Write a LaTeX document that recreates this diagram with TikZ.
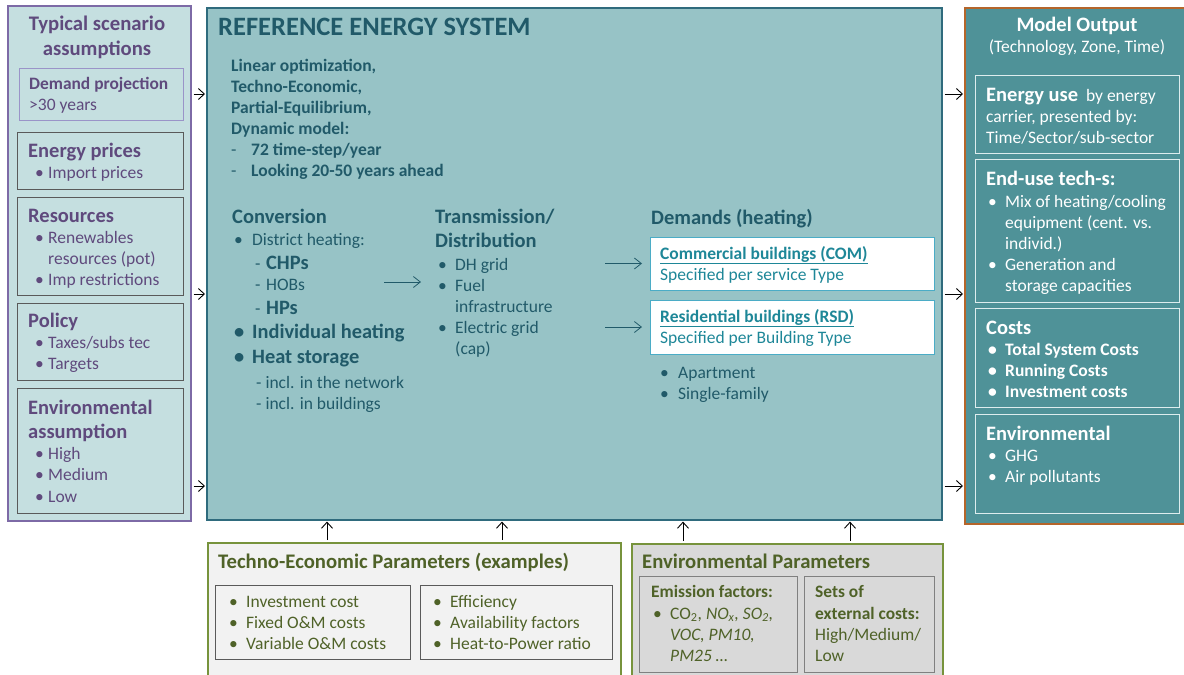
\documentclass[tikz,border=0pt]{standalone}
\usepackage{fontspec}
\setmainfont{Carlito}
\usetikzlibrary{arrows.meta}

\definecolor{scenfill}{HTML}{C5DFE0}
\definecolor{scenline}{HTML}{7D6AA6}
\definecolor{scentext}{HTML}{5F4A7D}
\definecolor{projline}{HTML}{9A94C8}
\definecolor{boxgray}{HTML}{5A5A5A}
\definecolor{resfill}{HTML}{97C3C6}
\definecolor{resline}{HTML}{2F6B7D}
\definecolor{restext}{HTML}{215A69}
\definecolor{demline}{HTML}{4BACC6}
\definecolor{demtext}{HTML}{1E8798}
\definecolor{outfill}{HTML}{4F9298}
\definecolor{outborder}{HTML}{B5652A}
\definecolor{outsub}{HTML}{DDEDEE}
\definecolor{parline}{HTML}{77933C}
\definecolor{partext}{HTML}{4F6228}
\definecolor{tecfill}{HTML}{F2F2F2}
\definecolor{envfill}{HTML}{D9D9D9}

\newcommand\fsz[2]{\fontsize{#1}{#2}\selectfont}
\newcommand\itm[1][18pt]{\makebox[#1][l]{•}}
\newcommand\cnt[1][18pt]{\hspace*{#1}}
\newcommand\dsh{\makebox[20pt][l]{\mdseries-}}

\tikzset{
  panel/.style={draw, anchor=north west, inner sep=0pt, line width=1.6pt},
  subpanel/.style={draw, anchor=north west, inner sep=0pt, line width=1.2pt},
  hd/.style={anchor=base west, inner sep=0pt, align=left, font=\bfseries\fsz{20.5}{24}},
  txt/.style={anchor=base west, inner sep=0pt, align=left, font=\fsz{17.5}{21}},
  feed/.style={-{Straight Barb[length=6pt,width=11pt]}, line width=0.9pt, shorten <=2pt, shorten >=1pt},
  flow/.style={-{Straight Barb[length=7pt,width=11pt]}, draw=restext, line width=0.8pt},
}

\begin{document}
\begin{tikzpicture}[x=1pt,y=-1pt]
\useasboundingbox (0,0) rectangle (1184,675);

% main panels
\node[panel, draw=scenline, fill=scenfill, minimum width=183pt, minimum height=515pt] (scen) at (7,5) {};
\node[panel, draw=resline, fill=resfill, minimum width=735pt, minimum height=512pt] (res) at (206,7) {};
\node[panel, draw=outborder, fill=outfill, minimum width=240pt, minimum height=516pt] (outp) at (964,7) {};
\node[panel, draw=parline, fill=tecfill, minimum width=413pt, minimum height=140pt] (tecpar) at (207,542) {};
\node[panel, draw=parline, fill=envfill, minimum width=311pt, minimum height=140pt] (envpar) at (631,543) {};

% scenario assumptions (base = last line)
\node[anchor=base, align=center, inner sep=0pt, text=scentext, font=\bfseries\fsz{20.7}{25}] (scentitle) at (97,55) {Typical scenario\\assumptions};
\node[subpanel, draw=projline, minimum width=164pt, minimum height=52pt] (dproj) at (19,68) {};
\node[hd, text=scentext, font=\bfseries\fsz{17.4}{21}] (dprojhd) at (29,89) {Demand projection};
\node[txt, text=scentext] (dprojtx) at (29,110) {>30 years};

\node[subpanel, draw=boxgray, minimum width=166pt, minimum height=57pt] (eprice) at (17,132) {};
\node[hd, text=scentext] (epricehd) at (28,157) {Energy prices};
\node[txt, text=scentext] (epricetx) at (35,178) {\itm[13pt]Import prices};

\node[subpanel, draw=boxgray, minimum width=166pt, minimum height=98pt] (resrc) at (17,197) {};
\node[hd, text=scentext] (resrchd) at (28,222) {Resources};
\node[txt, text=scentext] (resrctx) at (35,285) {\itm[13pt]Renewables\\\cnt[13pt]resources (pot)\\\itm[13pt]Imp restrictions};

\node[subpanel, draw=boxgray, minimum width=166pt, minimum height=77pt] (policy) at (17,303) {};
\node[hd, text=scentext] (policyhd) at (28,327) {Policy};
\node[txt, text=scentext] (policytx) at (35,369) {\itm[13pt]Taxes/subs tec\\\itm[13pt]Targets};

\node[subpanel, draw=boxgray, minimum width=166pt, minimum height=125pt] (envass) at (17,388) {};
\node[hd, text=scentext] (envasshd) at (28,438) {Environmental\\assumption};
\node[txt, text=scentext, font=\fsz{17.5}{21.5}] (envasstx) at (35,502) {\itm[13pt]High\\\itm[13pt]Medium\\\itm[13pt]Low};

% reference energy system
\node[hd, text=restext, font=\bfseries\fsz{26.5}{30}] (restitle) at (218,35) {REFERENCE ENERGY SYSTEM};
\node[txt, text=restext, font=\bfseries\fsz{17.5}{21}] (resintro) at (231,176) {Linear optimization,\\Techno-Economic,\\Partial-Equilibrium,\\Dynamic model:\\\dsh 72 time-step/year\\\dsh Looking 20-50 years ahead};

\node[hd, text=restext] (convhd) at (232,223) {Conversion};
\node[txt, text=restext] (conv1) at (234,245) {\itm District heating:};
\node[txt, text=restext] (conv2) at (255,269) {\makebox[11pt][l]{-}{\bfseries\fsz{20.4}{21}CHPs}};
\node[txt, text=restext] (conv3) at (255,290) {\makebox[11pt][l]{-}HOBs};
\node[txt, text=restext] (conv4) at (255,314) {\makebox[11pt][l]{-}{\bfseries\fsz{20.4}{21}HPs}};
\node[txt, text=restext, font=\bfseries\fsz{20.4}{21}] (conv5) at (234,338) {\itm Individual heating};
\node[txt, text=restext, font=\bfseries\fsz{20.4}{21}] (conv6) at (234,363) {\itm Heat storage};
\node[txt, text=restext] (conv7) at (256,409) {- incl. in the network\\- incl. in buildings};

\node[hd, text=restext] (transhd) at (435,247) {Transmission/\\Distribution};
\node[txt, text=restext] (translist) at (438,354) {\itm[17pt]DH grid\\\itm[17pt]Fuel\\\cnt[17pt]infrastructure\\\itm[17pt]Electric grid\\\cnt[17pt](cap)};

\node[hd, text=restext] (demhd) at (651,224) {Demands (heating)};
\node[subpanel, draw=demline, fill=white, minimum width=284pt, minimum height=53pt] (com) at (650,237) {};
\node[txt, text=demtext] (comtx) at (660,280) {\textbf{\underline{Commercial buildings (COM)}}\\Specified per service Type};
\node[subpanel, draw=demline, fill=white, minimum width=284pt, minimum height=54pt] (rsd) at (650,300) {};
\node[txt, text=demtext] (rsdtx) at (660,343) {\textbf{\underline{Residential buildings (RSD)}}\\Specified per Building Type};
\node[txt, text=restext] (rsdlist) at (660,399) {\itm Apartment\\\itm Single-family};

\coordinate (convout) at (384,282);
\coordinate (transin) at (421,282);
\draw[flow] (convout) -- (transin);
\coordinate (tcom) at (605,263.5);
\coordinate (trsd) at (605,327);
\draw[flow, shorten >=8pt] (tcom) -- (tcom -| com.west);
\draw[flow, shorten >=8pt] (trsd) -- (trsd -| rsd.west);

% model output
\node[anchor=base, inner sep=0pt, text=white, font=\bfseries\fsz{20.5}{24}] (outtitle) at (1077,31) {Model Output};
\node[anchor=base, inner sep=0pt, text=white, font=\fsz{17.5}{21}] (outsubt) at (1077,52) {(Technology, Zone, Time)};

\node[subpanel, draw=outsub, line width=1pt, minimum width=204pt, minimum height=78pt] (euse) at (975,75) {};
\node[txt, text=white] (eusehd) at (986,101) {{\bfseries\fsz{20.5}{21}Energy use}\ \ by energy};
\node[txt, text=white] (eusetx) at (986,143) {carrier, presented by:\\Time/Sector/sub-sector};

\node[subpanel, draw=outsub, line width=1pt, minimum width=204pt, minimum height=143pt] (etech) at (975,159) {};
\node[hd, text=white] (etechhd) at (986,185) {End-use tech-s:};
\node[txt, text=white] (etechtx) at (988,291) {\itm[17pt]Mix of heating/cooling\\\cnt[17pt]equipment (cent. vs.\\\cnt[17pt]individ.)\\\itm[17pt]Generation and\\\cnt[17pt]storage capacities};

\node[subpanel, draw=outsub, line width=1pt, minimum width=204pt, minimum height=99pt] (costs) at (975,308) {};
\node[hd, text=white] (costshd) at (986,334) {Costs};
\node[txt, text=white, font=\bfseries\fsz{17.5}{21}] (coststx) at (988,397) {\itm[17pt]Total System Costs\\\itm[17pt]Running Costs\\\itm[17pt]Investment costs};

\node[subpanel, draw=outsub, line width=1pt, minimum width=204pt, minimum height=99pt] (envout) at (975,414) {};
\node[hd, text=white] (envouthd) at (986,440) {Environmental};
\node[txt, text=white] (envouttx) at (988,482) {\itm[17pt]GHG\\\itm[17pt]Air pollutants};

% parameters
\node[hd, text=partext, font=\bfseries\fsz{20.7}{24}] (tecparhd) at (218,568) {Techno-Economic Parameters (examples)};
\node[subpanel, draw=boxgray, minimum width=195pt, minimum height=74pt] (tecA) at (215,585) {};
\node[txt, text=partext] (tecAtx) at (229,649) {\itm[17pt]Investment cost\\\itm[17pt]Fixed O\&M costs\\\itm[17pt]Variable O\&M costs};
\node[subpanel, draw=boxgray, minimum width=192pt, minimum height=74pt] (tecB) at (420,585) {};
\node[txt, text=partext] (tecBtx) at (433,649) {\itm[17pt]Efficiency\\\itm[17pt]Availability factors\\\itm[17pt]Heat-to-Power ratio};

\node[hd, text=partext, font=\bfseries\fsz{20.7}{24}] (envparhd) at (642,568) {Environmental Parameters};
\node[subpanel, draw=gray, minimum width=158pt, minimum height=96pt] (emis) at (639,576) {};
\node[hd, text=partext, font=\bfseries\fsz{17.4}{21}] (emishd) at (651,597) {Emission factors:};
\node[txt, text=partext] (emistx) at (653,661) {\itm[17pt]CO\textsubscript{2}, \textit{NO\textsubscript{x}, SO\textsubscript{2},}\\\cnt[17pt]\textit{VOC, PM10,}\\\cnt[17pt]\textit{PM25 \ldots}};
\node[subpanel, draw=gray, minimum width=130pt, minimum height=96pt] (extc) at (804,576) {};
\node[hd, text=partext, font=\bfseries\fsz{17.4}{22}] (extchd) at (815,619) {Sets of\\external costs:};
\node[txt, text=partext] (extctx) at (815,661) {High/Medium/\\Low};

% connectors
\foreach \yy in {94,294,486} {
  \coordinate (ya) at (0,\yy);
  \draw[feed] (scen.east |- ya) -- (res.west |- ya);
  \draw[feed] (res.east |- ya) -- (outp.west |- ya);
}
\foreach \xx in {327,502} {
  \coordinate (xa) at (\xx,0);
  \draw[feed] (tecpar.north -| xa) -- (res.south -| xa);
}
\foreach \xx in {683,850} {
  \coordinate (xa) at (\xx,0);
  \draw[feed] (envpar.north -| xa) -- (res.south -| xa);
}
\end{tikzpicture}
\end{document}
